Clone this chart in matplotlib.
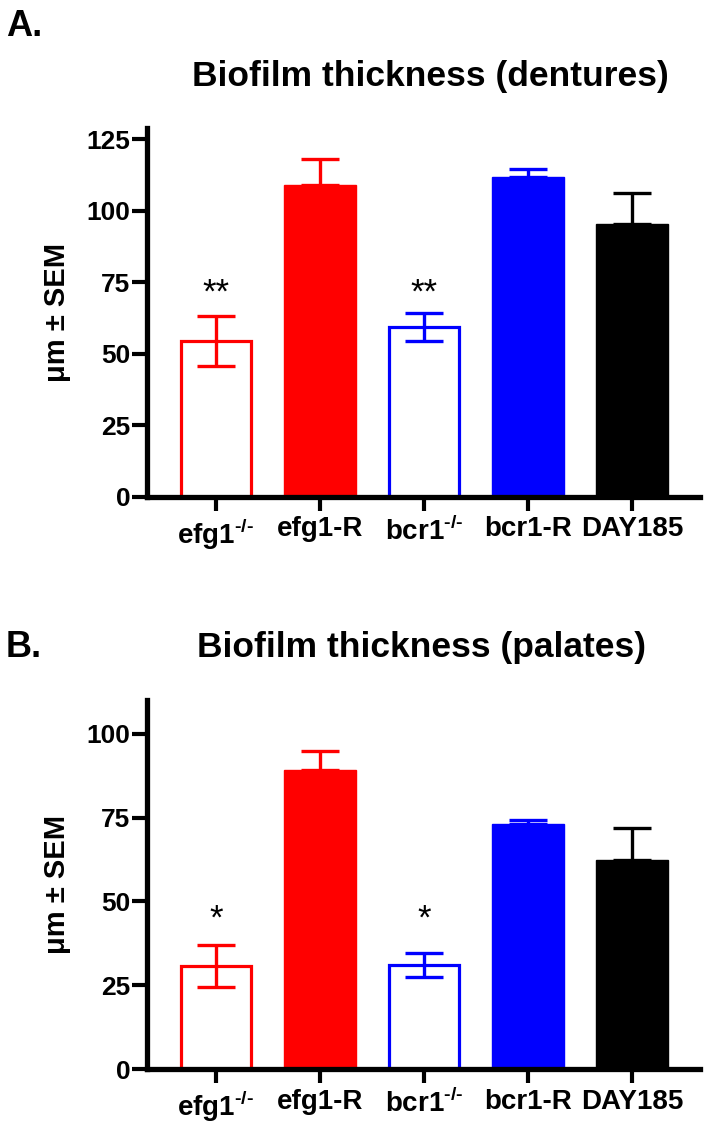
import numpy as np
import matplotlib
matplotlib.use('Agg')
import matplotlib.pyplot as plt
from matplotlib import font_manager

names = {f.name for f in font_manager.fontManager.ttflist}
family = 'Liberation Sans' if 'Liberation Sans' in names else 'DejaVu Sans'
plt.rcParams['font.family'] = family
plt.rcParams['mathtext.fontset'] = 'custom'
plt.rcParams['mathtext.rm'] = family
plt.rcParams['mathtext.bf'] = family + ':bold'

# data
strains = ['efg1$^{\\mathbf{\u2010/\u2010}}$', 'efg1-R', 'bcr1$^{\\mathbf{\u2010/\u2010}}$', 'bcr1-R', 'DAY185']
colors = ['#ff0000', '#ff0000', '#0000ff', '#0000ff', '#000000']
filled = [False, True, False, True, True]

dentures_mean = [54.5, 109.0, 59.5, 112.0, 95.6]
dentures_sem = [8.7, 9.0, 5.0, 2.8, 10.7]
dentures_stars = ['**', '', '**', '', '']

palates_mean = [30.7, 89.1, 31.0, 73.1, 62.4]
palates_sem = [6.2, 5.8, 3.6, 1.2, 9.4]
palates_stars = ['*', '', '*', '', '']

W, H = 707, 1125
fig = plt.figure(figsize=(W / 100, H / 100), dpi=100)


def draw_panel(ax, means, sems, stars, ymax, yticks, star_pad):
    x = np.arange(len(strains))
    for i in range(len(strains)):
        if filled[i]:
            ax.bar(x[i], means[i], width=0.70, color=colors[i], edgecolor=colors[i],
                   linewidth=1, zorder=2)
            yerr = [[0], [sems[i]]]
        else:
            ax.bar(x[i], means[i], width=0.67, facecolor='white', edgecolor=colors[i],
                   linewidth=2.3, zorder=2)
            yerr = [[sems[i]], [sems[i]]]
        ax.errorbar(x[i], means[i], yerr=yerr, color=colors[i], elinewidth=2.4,
                    capsize=14, capthick=2.4, zorder=3)
    # significance stars
    marked = [i for i in range(len(strains)) if stars[i]]
    top = max(means[i] + sems[i] for i in marked)
    for i in marked:
        ax.annotate(stars[i], xy=(x[i], top), xytext=(0, star_pad),
                    textcoords='offset points', ha='center', va='baseline', fontsize=25)

    ax.set_xlim(-0.663, 4.654)
    ax.set_ylim(0, ymax)
    ax.set_yticks(yticks)
    ax.set_xticks(x)
    ax.set_xticklabels(strains, fontsize=20, fontweight='bold')
    for lab in ax.get_yticklabels():
        lab.set_fontsize(19)
        lab.set_fontweight('bold')
    ax.spines['top'].set_visible(False)
    ax.spines['right'].set_visible(False)
    ax.spines['left'].set_linewidth(3.8)
    ax.spines['bottom'].set_linewidth(3.8)
    ax.tick_params(axis='y', length=11, width=3, pad=1)
    ax.tick_params(axis='x', length=10, width=3, pad=4)
    ax.set_ylabel('\u03bcm \u00b1 SEM', fontsize=21, fontweight='bold', va='center')
    ax.yaxis.set_label_coords(-0.162, 0.5)


left = 147 / W
width = (700 - 147) / W

axA = fig.add_axes([left, 1 - 497 / H, width, (497 - 128) / H])
draw_panel(axA, dentures_mean, dentures_sem, dentures_stars, 129, [0, 25, 50, 75, 100, 125], 7)

axB = fig.add_axes([left, 1 - 1069.3 / H, width, (1069.3 - 700) / H])
draw_panel(axB, palates_mean, palates_sem, palates_stars, 110, [0, 25, 50, 75, 100], 12)

fig.text(6 / W, 1 - 36 / H, 'A.', fontsize=26, fontweight='bold', ha='left', va='baseline')
fig.text(430 / W, 1 - 86 / H, 'Biofilm thickness (dentures)', fontsize=25.5,
         fontweight='bold', ha='center', va='baseline')
fig.text(6 / W, 1 - 657 / H, 'B.', fontsize=26, fontweight='bold', ha='left', va='baseline')
fig.text(422 / W, 1 - 657 / H, 'Biofilm thickness (palates)', fontsize=25.5,
         fontweight='bold', ha='center', va='baseline')

fig.savefig('out.png', dpi=100)
